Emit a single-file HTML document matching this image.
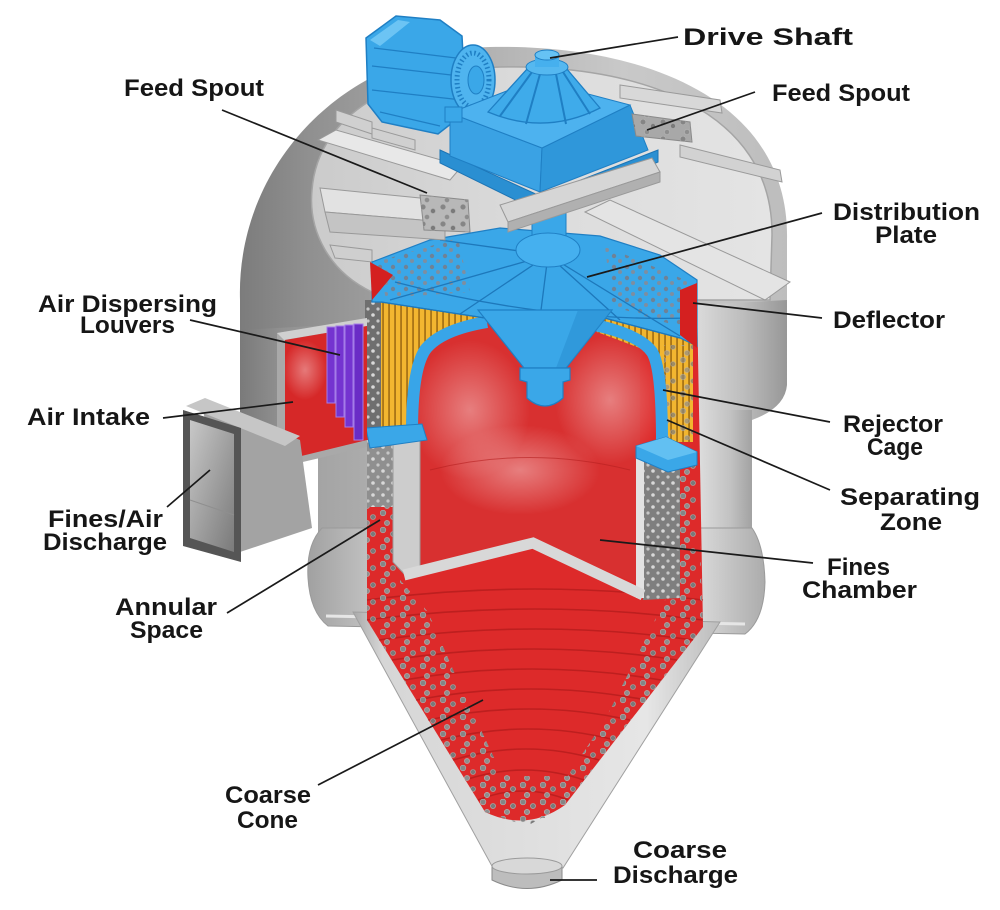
<!DOCTYPE html>
<html><head><meta charset="utf-8">
<style>
html,body{margin:0;padding:0;background:#fff;}
svg{display:block;}
text{font-family:"Liberation Sans",sans-serif;font-weight:bold;font-size:24px;fill:#161616;}
</style></head><body>
<svg width="1000" height="910" viewBox="0 0 1000 910" xmlns="http://www.w3.org/2000/svg">
<defs>
  <linearGradient id="gDrum" gradientUnits="userSpaceOnUse" x1="240" y1="0" x2="787" y2="0">
    <stop offset="0" stop-color="#7a7a7a"/><stop offset="0.08" stop-color="#929292"/>
    <stop offset="0.3" stop-color="#a6a6a6"/><stop offset="0.83" stop-color="#dcdcdc"/>
    <stop offset="0.92" stop-color="#bdbdbd"/><stop offset="1" stop-color="#979797"/>
  </linearGradient>
  <linearGradient id="gMid" gradientUnits="userSpaceOnUse" x1="318" y1="0" x2="752" y2="0">
    <stop offset="0" stop-color="#a4a4a4"/><stop offset="0.87" stop-color="#e0e0e0"/>
    <stop offset="0.95" stop-color="#c2c2c2"/><stop offset="1" stop-color="#a2a2a2"/>
  </linearGradient>
  <linearGradient id="gBul" gradientUnits="userSpaceOnUse" x1="306" y1="0" x2="766" y2="0">
    <stop offset="0" stop-color="#a0a0a0"/><stop offset="0.15" stop-color="#c4c4c4"/>
    <stop offset="0.85" stop-color="#dadada"/><stop offset="1" stop-color="#ababab"/>
  </linearGradient>
  <linearGradient id="gCone" gradientUnits="userSpaceOnUse" x1="353" y1="0" x2="720" y2="0">
    <stop offset="0" stop-color="#a9a9a9"/><stop offset="0.08" stop-color="#d6d6d6"/>
    <stop offset="0.8" stop-color="#e6e6e6"/><stop offset="1" stop-color="#bcbcbc"/>
  </linearGradient>
  <linearGradient id="gRim" gradientUnits="userSpaceOnUse" x1="240" y1="0" x2="787" y2="0">
    <stop offset="0" stop-color="#7c7c7c"/><stop offset="0.12" stop-color="#8f8f8f"/>
    <stop offset="0.4" stop-color="#adadad"/><stop offset="0.7" stop-color="#c9c9c9"/>
    <stop offset="1" stop-color="#bdbdbd"/>
  </linearGradient>
  <linearGradient id="gLid" gradientUnits="userSpaceOnUse" x1="312" y1="0" x2="772" y2="0">
    <stop offset="0" stop-color="#cbcbcb"/><stop offset="0.5" stop-color="#dcdcdc"/>
    <stop offset="1" stop-color="#e4e4e4"/>
  </linearGradient>
  <linearGradient id="gDuct" x1="0" y1="0" x2="1" y2="1">
    <stop offset="0" stop-color="#c8c8c8"/><stop offset="1" stop-color="#7a7a7a"/>
  </linearGradient>
  <radialGradient id="gHaze" cx="0.5" cy="0.5" r="0.5">
    <stop offset="0" stop-color="#ffffff" stop-opacity="0.38"/>
    <stop offset="1" stop-color="#ffffff" stop-opacity="0"/>
  </radialGradient>
  <pattern id="pd" width="20" height="17" patternUnits="userSpaceOnUse">
    <circle cx="3" cy="3" r="2.8" fill="#858585" stroke="#b0b0b0" stroke-width="0.6"/>
    <circle cx="13" cy="7" r="2.5" fill="#7a7a7a" stroke="#ababab" stroke-width="0.6"/>
    <circle cx="7" cy="13" r="2.6" fill="#8e8e8e" stroke="#b5b5b5" stroke-width="0.6"/>
  </pattern>
  <pattern id="pl" width="10" height="12" patternUnits="userSpaceOnUse">
    <circle cx="3" cy="3" r="1.8" fill="#d8d8d8"/>
    <circle cx="8" cy="9" r="1.6" fill="#c6c6c6"/>
  </pattern>
  <pattern id="pb" width="13" height="11" patternUnits="userSpaceOnUse">
    <circle cx="3" cy="3" r="2.2" fill="#6f8296"/>
    <circle cx="9" cy="8" r="2" fill="#7e8ea0"/>
  </pattern>
  <pattern id="py" width="6" height="10" patternUnits="userSpaceOnUse">
    <rect width="6" height="10" fill="#f2b630"/>
    <rect x="4.4" width="1.3" height="10" fill="#8c5a0c"/>
  </pattern>
</defs>

<rect width="1000" height="910" fill="#fff"/>

<!-- upper drum -->
<path d="M240,290 L240,428 Q240,438 252,440 L320,440 L320,420 L752,420 Q785,408 787,385 L787,240 Z" fill="url(#gDrum)"/>
<!-- middle body -->
<rect x="318" y="410" width="434" height="130" fill="url(#gMid)"/>
<!-- lower bulge -->
<path d="M322,528 Q306,545 308,578 Q310,612 328,626 L745,634 Q764,620 765,582 Q764,545 752,528 Z" fill="url(#gBul)" stroke="#9a9a9a" stroke-width="1"/>
<path d="M326,616 L745,624" stroke="#e6e6e6" stroke-width="3"/>
<!-- cone -->
<polygon points="353,612 720,622 563,868 493,868" fill="url(#gCone)" stroke="#a0a0a0" stroke-width="1"/>
<!-- discharge ring -->
<path d="M492,866 L492,880 Q527,897 562,880 L562,866 Z" fill="#bdbdbd" stroke="#8a8a8a"/>
<ellipse cx="527" cy="866" rx="35" ry="8" fill="#d8d8d8" stroke="#9a9a9a"/>

<!-- top rim & lid -->
<path d="M240,300 C236,165 345,50 490,47 C645,44 790,100 787,240 L787,300 L240,330 Z" fill="url(#gRim)"/>
<path d="M372,292 C330,272 308,232 312,190 C318,112 400,70 500,67 C640,64 773,110 772,235 L770,300 L372,300 Z" fill="url(#gLid)" stroke="#a5a5a5" stroke-width="1.5"/>

<!-- lid beams (behind) -->
<g stroke="#9a9a9a" stroke-width="1">
  <polygon points="318,140 336,130 462,166 450,180" fill="#e8e8e8"/>
  <polygon points="336,110 372,122 372,134 336,122" fill="#d0d0d0"/>
  <polygon points="372,128 415,140 415,150 372,138" fill="#d0d0d0"/>
  <polygon points="620,85 720,100 722,113 620,98" fill="#d8d8d8"/>
  <polygon points="680,145 780,170 782,182 680,157" fill="#d2d2d2"/>
  <polygon points="330,245 372,250 372,262 335,258" fill="#cfcfcf"/>
</g>

<!-- motor -->
<path d="M366,38 L396,16 L440,20 L462,36 L466,112 L438,134 L382,122 L368,104 Z" fill="#3aa7e8" stroke="#1f7fc4" stroke-width="1.5"/>
<g stroke="#1f7fc4" stroke-width="1.2" fill="none">
  <path d="M374,48 L456,58"/><path d="M372,66 L460,76"/><path d="M372,90 L462,100"/><path d="M380,112 L440,126"/>
</g>
<polygon points="370,40 398,20 410,22 380,46" fill="#6cc4f4"/>
<ellipse cx="473" cy="80" rx="22" ry="35" fill="#4fb4ef" stroke="#1f7fc4" stroke-width="1.5"/>
<ellipse cx="473" cy="80" rx="16" ry="27" fill="none" stroke="#1f7fc4" stroke-width="5" stroke-dasharray="1.5 2.5"/>
<ellipse cx="476" cy="80" rx="8" ry="14" fill="#3aa7e8" stroke="#1f7fc4"/>

<!-- gearbox -->
<polygon points="440,150 540,196 658,150 658,162 540,212 440,163" fill="#2a8fd2" stroke="#1c74b4"/>
<polygon points="450,113 542,148 540,192 450,156" fill="#3aa2e4" stroke="#1f7fc4"/>
<polygon points="542,148 630,105 648,150 540,192" fill="#2f97da" stroke="#1f7fc4"/>
<polygon points="450,113 535,80 630,105 542,148" fill="#4db2ef" stroke="#1f7fc4"/>
<rect x="445" y="107" width="17" height="15" fill="#3aa7e8" stroke="#1f7fc4"/>
<path d="M488,112 L528,68 L566,68 L600,108 Q545,136 488,112 Z" fill="#3fabea" stroke="#1f7fc4" stroke-width="1.3"/>
<g stroke="#1f7fc4" stroke-width="2">
  <line x1="532" y1="72" x2="500" y2="116"/><line x1="540" y1="74" x2="526" y2="124"/>
  <line x1="556" y1="74" x2="566" y2="124"/><line x1="563" y1="72" x2="590" y2="114"/>
</g>
<ellipse cx="547" cy="67" rx="21" ry="8" fill="#55b8f0" stroke="#1f7fc4"/>
<rect x="535" y="55" width="24" height="12" fill="#46b0ee"/>
<ellipse cx="547" cy="55" rx="12" ry="5" fill="#66c2f4" stroke="#1f7fc4"/>

<!-- right feed spout -->
<polygon points="632,114 690,122 692,142 636,136" fill="#a8a8a8" stroke="#8a8a8a"/>
<polygon points="632,114 690,122 692,142 636,136" fill="url(#pd)"/>

<!-- ===== cutaway interior ===== -->
<path d="M367,300 L697,300 L703,627 L565,805 Q527,832 485,812 L367,620 Z" fill="#dd2a2a"/>
<g stroke="#a81818" stroke-width="1.6" fill="none" opacity="0.6">
  <path d="M367,600 Q535,578 703,600"/><path d="M367,620 Q535,598 703,620"/>
  <path d="M379,640 Q536,618 693,640"/><path d="M392,660 Q534,638 677,660"/>
  <path d="M404,680 Q532,658 661,680"/><path d="M416,700 Q531,678 646,700"/>
  <path d="M428,720 Q529,698 630,720"/><path d="M441,740 Q528,718 615,740"/>
  <path d="M453,760 Q526,738 599,760"/><path d="M465,780 Q524,760 584,780"/>
  <path d="M478,800 Q523,782 568,800"/>
</g>
<!-- particle bands -->
<polygon points="367,500 398,500 400,580 428,612 462,690 500,770 545,800 545,818 485,812 367,620" fill="url(#pd)"/>
<polygon points="680,462 697,462 703,627 565,805 548,812 565,780 605,720 645,640 665,600 680,590" fill="url(#pd)"/>
<polygon points="480,776 578,776 565,805 527,826 485,812" fill="url(#pd)"/>

<!-- left annular strips -->
<rect x="365" y="300" width="16" height="130" fill="#6f6f6f"/>
<rect x="365" y="300" width="16" height="130" fill="url(#pl)"/>
<rect x="367" y="440" width="28" height="67" fill="#8f8f8f"/>
<rect x="367" y="440" width="28" height="67" fill="url(#pl)"/>

<!-- fines chamber interior -->
<polygon points="414,320 662,320 640,360 640,585 533,540 420,570" fill="#d83030"/>
<ellipse cx="470" cy="410" rx="60" ry="70" fill="url(#gHaze)"/>
<ellipse cx="610" cy="400" rx="55" ry="65" fill="url(#gHaze)"/>
<ellipse cx="520" cy="470" rx="80" ry="45" fill="url(#gHaze)"/>
<path d="M430,470 Q530,445 630,470" stroke="#b52020" stroke-width="1" fill="none" opacity="0.6"/>

<!-- fines chamber walls -->
<polygon points="393,440 420,440 420,572 408,578 393,562" fill="#cdcdcd" stroke="#9c9c9c" stroke-width="1"/>
<polygon points="643,462 680,470 680,598 643,600" fill="#7f7f7f"/>
<polygon points="643,462 680,470 680,598 643,600" fill="url(#pl)"/>
<rect x="636" y="452" width="8" height="146" fill="#e2e2e2"/>
<polyline points="404,575 533,543 643,595" fill="none" stroke="#d8d8d8" stroke-width="11" stroke-linejoin="miter"/>

<!-- yellow cages -->
<polygon points="381,300 485,316 470,330 430,340 418,360 414,428 381,428" fill="url(#py)"/>
<polygon points="597,315 680,338 693,342 693,442 662,442 660,368 645,350 597,332" fill="url(#py)"/>
<polygon points="664,345 693,345 693,440 664,440" fill="url(#pd)" opacity="0.7"/>
<path d="M487,322 Q440,330 425,350 Q412,370 412,432" fill="none" stroke="#38a5e8" stroke-width="12"/>
<path d="M595,325 Q640,335 652,352 Q662,368 662,442" fill="none" stroke="#38a5e8" stroke-width="12"/>
<polygon points="366,428 422,424 427,440 370,448" fill="#3aa7e8" stroke="#1f7fc4"/>
<polygon points="636,446 666,437 697,452 697,465 668,472 636,458" fill="#3aa7e8" stroke="#1f7fc4"/>
<polygon points="636,446 666,437 697,452 668,460" fill="#62c0f2"/>

<!-- distribution plate -->
<path d="M372,262 L430,240 L500,228 L600,236 L660,255 L697,280 L697,346 L680,338 L597,316 L485,318 L381,302 L372,302 Z" fill="#3aa7e8" stroke="#1f7fc4" stroke-width="1.2"/>
<polygon points="376,262 458,238 470,292 386,298" fill="url(#pb)"/>
<polygon points="605,246 690,282 690,330 612,306" fill="url(#pb)"/>
<g stroke="#1d78bb" stroke-width="1.3" fill="none">
  <line x1="548" y1="255" x2="390" y2="300"/><line x1="548" y1="255" x2="460" y2="314"/>
  <line x1="548" y1="255" x2="540" y2="318"/><line x1="548" y1="255" x2="620" y2="320"/>
  <line x1="548" y1="255" x2="680" y2="336"/><line x1="548" y1="255" x2="440" y2="240"/>
  <path d="M395,282 Q545,322 690,318"/>
  <path d="M381,302 L485,318 L597,316 L680,338"/>
</g>
<!-- funnel -->
<polygon points="478,310 612,310 566,368 524,368" fill="#3aa7e8" stroke="#1f7fc4" stroke-width="1.2"/>
<polygon points="578,310 612,310 566,368 556,368" fill="#2a8fd2" opacity="0.6"/>
<path d="M520,368 L570,368 L570,380 L563,382 L563,398 Q545,414 527,398 L527,382 L520,380 Z" fill="#3aa7e8" stroke="#1f7fc4" stroke-width="1.2"/>
<!-- shaft & hub -->
<rect x="532" y="205" width="34" height="45" fill="#3aa7e8" stroke="#1f7fc4"/>
<ellipse cx="548" cy="250" rx="32" ry="17" fill="#45b0ef" stroke="#1f7fc4"/>

<!-- deflectors -->
<polygon points="370,262 393,275 372,300" fill="#d42020"/>
<polygon points="680,290 697,283 697,348 680,335" fill="#d42020"/>

<!-- beams over plate -->
<g stroke="#999" stroke-width="1">
  <polygon points="585,212 610,200 790,282 765,300" fill="#e4e4e4"/>
  <polygon points="500,205 652,158 660,172 508,222" fill="#d6d6d6"/>
  <polygon points="508,222 660,172 660,182 508,232" fill="#b0b0b0"/>
  <polygon points="320,188 440,200 445,222 325,212" fill="#e2e2e2"/>
  <polygon points="325,212 445,222 445,240 330,232" fill="#c4c4c4"/>
</g>
<polygon points="420,195 468,200 470,232 424,230" fill="#b8b8b8" stroke="#8a8a8a"/>
<polygon points="420,195 468,200 470,232 424,230" fill="url(#pd)"/>

<!-- air intake box -->
<polygon points="277,333 367,318 367,447 277,468" fill="#a9a9a9"/>
<polygon points="277,333 367,318 367,326 284,340" fill="#d0d0d0"/>
<polygon points="285,340 367,326 367,440 285,460" fill="#d62828"/>
<ellipse cx="305" cy="370" rx="22" ry="30" fill="url(#gHaze)"/>
<g stroke="#a47ce8" stroke-width="1">
  <rect x="327" y="327" width="8" height="76" fill="#7434d0"/>
  <rect x="336" y="326" width="8" height="91" fill="#7434d0"/>
  <rect x="345" y="325" width="8" height="102" fill="#7434d0"/>
  <rect x="354" y="324" width="9" height="116" fill="#6a2cc6"/>
</g>

<!-- duct -->
<polygon points="200,400 300,440 312,528 240,552" fill="#a3a3a3"/>
<polygon points="186,406 205,398 300,436 285,446" fill="#c6c6c6"/>
<polygon points="183,410 241,428 241,562 183,546" fill="#555"/>
<polygon points="190,420 234,434 234,552 190,538" fill="url(#gDuct)"/>
<line x1="190" y1="500" x2="234" y2="515" stroke="#8f8f8f" stroke-width="1"/>

<!-- leader lines -->
<g stroke="#1a1a1a" stroke-width="1.7" fill="none">
  <line x1="550" y1="58" x2="678" y2="37"/>
  <line x1="222" y1="110" x2="427" y2="193"/>
  <line x1="755" y1="92" x2="647" y2="130"/>
  <line x1="822" y1="213" x2="587" y2="277"/>
  <line x1="822" y1="318" x2="693" y2="303"/>
  <line x1="830" y1="422" x2="663" y2="390"/>
  <line x1="830" y1="490" x2="667" y2="420"/>
  <line x1="813" y1="563" x2="600" y2="540"/>
  <line x1="190" y1="320" x2="340" y2="355"/>
  <line x1="163" y1="418" x2="293" y2="402"/>
  <line x1="167" y1="507" x2="210" y2="470"/>
  <line x1="227" y1="613" x2="380" y2="520"/>
  <line x1="318" y1="785" x2="483" y2="700"/>
  <line x1="597" y1="880" x2="550" y2="880"/>
</g>

<!-- labels -->
<text x="683" y="45" textLength="170" lengthAdjust="spacingAndGlyphs">Drive Shaft</text>
<text x="124" y="96" textLength="140" lengthAdjust="spacingAndGlyphs">Feed Spout</text>
<text x="772" y="101" textLength="138" lengthAdjust="spacingAndGlyphs">Feed Spout</text>
<text x="833" y="220" textLength="147" lengthAdjust="spacingAndGlyphs">Distribution</text>
<text x="875" y="243" textLength="62" lengthAdjust="spacingAndGlyphs">Plate</text>
<text x="833" y="328" textLength="112" lengthAdjust="spacingAndGlyphs">Deflector</text>
<text x="38" y="312" textLength="179" lengthAdjust="spacingAndGlyphs">Air Dispersing</text>
<text x="80" y="333" textLength="95" lengthAdjust="spacingAndGlyphs">Louvers</text>
<text x="27" y="425" textLength="123" lengthAdjust="spacingAndGlyphs">Air Intake</text>
<text x="843" y="432" textLength="100" lengthAdjust="spacingAndGlyphs">Rejector</text>
<text x="867" y="455" textLength="56" lengthAdjust="spacingAndGlyphs">Cage</text>
<text x="840" y="505" textLength="140" lengthAdjust="spacingAndGlyphs">Separating</text>
<text x="880" y="530" textLength="62" lengthAdjust="spacingAndGlyphs">Zone</text>
<text x="48" y="527" textLength="115" lengthAdjust="spacingAndGlyphs">Fines/Air</text>
<text x="43" y="550" textLength="124" lengthAdjust="spacingAndGlyphs">Discharge</text>
<text x="827" y="575" textLength="63" lengthAdjust="spacingAndGlyphs">Fines</text>
<text x="802" y="598" textLength="115" lengthAdjust="spacingAndGlyphs">Chamber</text>
<text x="115" y="615" textLength="102" lengthAdjust="spacingAndGlyphs">Annular</text>
<text x="130" y="638" textLength="73" lengthAdjust="spacingAndGlyphs">Space</text>
<text x="225" y="803" textLength="86" lengthAdjust="spacingAndGlyphs">Coarse</text>
<text x="237" y="828" textLength="61" lengthAdjust="spacingAndGlyphs">Cone</text>
<text x="633" y="858" textLength="94" lengthAdjust="spacingAndGlyphs">Coarse</text>
<text x="613" y="883" textLength="125" lengthAdjust="spacingAndGlyphs">Discharge</text>
</svg>
</body></html>
